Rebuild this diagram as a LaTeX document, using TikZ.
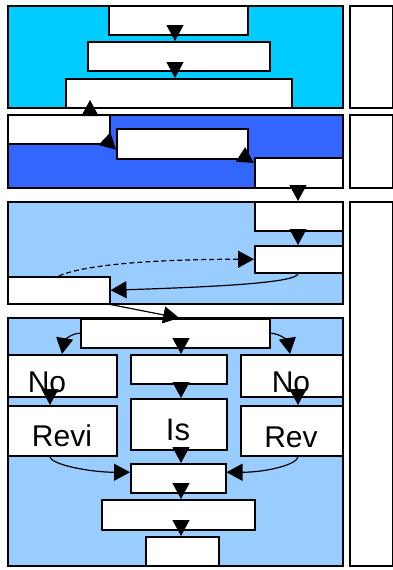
\documentclass[tikz,border=0pt]{standalone}
\usepackage{fontspec}
\setmainfont{Liberation Sans}
\usetikzlibrary{arrows.meta}
\definecolor{bandA}{HTML}{00CCFF}
\definecolor{bandB}{HTML}{3366FF}
\definecolor{bandC}{HTML}{99CCFF}
\newcommand\mkbox[6][boxn]{\node[#1, anchor=north west, inner sep=0pt, minimum width={#5pt-#3pt}, minimum height={#6pt-#4pt}] (#2) at (#3,#4) {};}
\begin{document}
\begin{tikzpicture}[x=1pt,y=-1pt,
  boxn/.style={draw=black, line width=1.5pt, fill=white},
  bandone/.style={boxn, fill=bandA},
  bandtwo/.style={boxn, fill=bandB},
  bandthree/.style={boxn, fill=bandC},
  arr/.style={line width=1.2pt, -{Triangle[length=16pt,width=17pt]}},
  dasharr/.style={arr, dash pattern=on 5pt off 3pt},
  lbl/.style={anchor=base, inner sep=0pt, font=\fontsize{30}{30}\selectfont},
  lblsmall/.style={anchor=base, inner sep=0pt, font=\fontsize{31}{31}\selectfont}]
\fill[white] (0,0) rectangle (393,570);
\useasboundingbox (0,0) rectangle (393,570);
% bands
\mkbox[bandone]{Bone}{7}{5}{342}{107}
\mkbox[bandtwo]{Btwo}{7}{114}{342}{187}
\mkbox[bandthree]{Bthree}{7}{201}{342}{303}
\mkbox[bandthree]{Bfour}{7}{317}{342}{565}
% side boxes
\mkbox{Rone}{349}{5}{392}{107}
\mkbox{Rtwo}{349}{114}{392}{187}
\mkbox{Rthree}{349}{201}{392}{565}
% boxes
\mkbox{A}{108}{5}{247}{34}
\mkbox{B}{87}{41}{269}{70}
\mkbox{C}{65}{78}{291}{107}
\mkbox{D}{7}{114}{109}{143}
\mkbox{E}{116}{128}{247}{158}
\mkbox{F}{254}{157}{342}{187}
\mkbox{G}{254}{201}{342}{230}
\mkbox{H}{254}{245}{342}{272}
\mkbox{I}{7}{276}{109}{303}
\mkbox{J}{80}{318}{269}{347}
\mkbox{Ka}{7}{354}{116}{396}
\mkbox{Kb}{130}{354}{226}{383}
\mkbox{Kc}{240}{354}{342}{396}
\mkbox{La}{7}{405}{116}{455}
\mkbox{Lb}{130}{398}{226}{449}
\mkbox{Lc}{240}{405}{342}{455}
\mkbox{M}{130}{463}{225}{492}
\mkbox{N}{101}{499}{254}{529}
\mkbox{O}{145}{536}{218}{565}
% texts
\begin{scope}
\clip (Ka.south west) rectangle (Ka.north east);
\node[lbl] (tNoa) at (47,392.5) {No};
\end{scope}
\begin{scope}
\clip (Kc.south west) rectangle (Kc.north east);
\node[lbl] (tNoc) at (291,392.5) {No};
\end{scope}
\node[lbl] (tRevi) at (62,446) {Revi};
\node[lblsmall] (tIs) at (178,440) {Is};
\node[lbl] (tRev) at (291,447) {Rev};
% columns
\coordinate (cT) at (175,0);
\coordinate (cM) at (181,0);
\coordinate (cR) at (298,0);
\coordinate (cL) at (50,0);
\coordinate (cKa) at (62,0);
\coordinate (cKc) at (290,0);
\coordinate (cUp) at (90,100);
% connectors
\draw[arr] (A.south -| cT) -- (B.north -| cT);
\draw[arr] (B.south -| cT) -- (C.north -| cT);
\draw[arr] (D.north -| cUp) -- (cUp);
\draw[arr] (D.south east) -- ([yshift=-6pt]E.west);
\draw[arr] (E.south east) -- ([yshift=-6pt]F.north west);
\draw[arr] (F.south -| cR) -- (G.north -| cR);
\draw[arr] (G.south -| cR) -- (H.north -| cR);
\draw[arr] (H.south -| cR) .. controls +(0,10) and +(91,-3) .. (I.east);
\draw[dasharr] (I.north) .. controls +(32,-14) and +(-74,0) .. (H.west);
\draw[arr] (I.south east) -- ([xshift=4pt]J.north);
\draw[arr] (J.west) .. controls +(-10,0) and +(2,-12) .. (Ka.north -| cKa);
\draw[arr] (J.south -| cM) -- (Kb.north -| cM);
\draw[arr] (J.east) .. controls +(10,0) and +(-2,-12) .. (Kc.north -| cKc);
\draw[arr] (Ka.south -| cL) -- (La.north -| cL);
\draw[arr] (Kb.south -| cM) -- (Lb.north -| cM);
\draw[arr] (Kc.south -| cR) -- (Lc.north -| cR);
\draw[arr] (La.south -| cL) .. controls +(0,8) and +(-40,0) .. ([yshift=6pt]M.west);
\draw[arr] (Lb.south -| cM) -- (M.north -| cM);
\draw[arr] (Lc.south -| cR) .. controls +(0,8) and +(40,0) .. ([yshift=6pt]M.east);
\draw[arr] (M.south -| cM) -- (N.north -| cM);
\draw[arr] (N.south -| cM) -- (O.north -| cM);
\end{tikzpicture}
\end{document}
